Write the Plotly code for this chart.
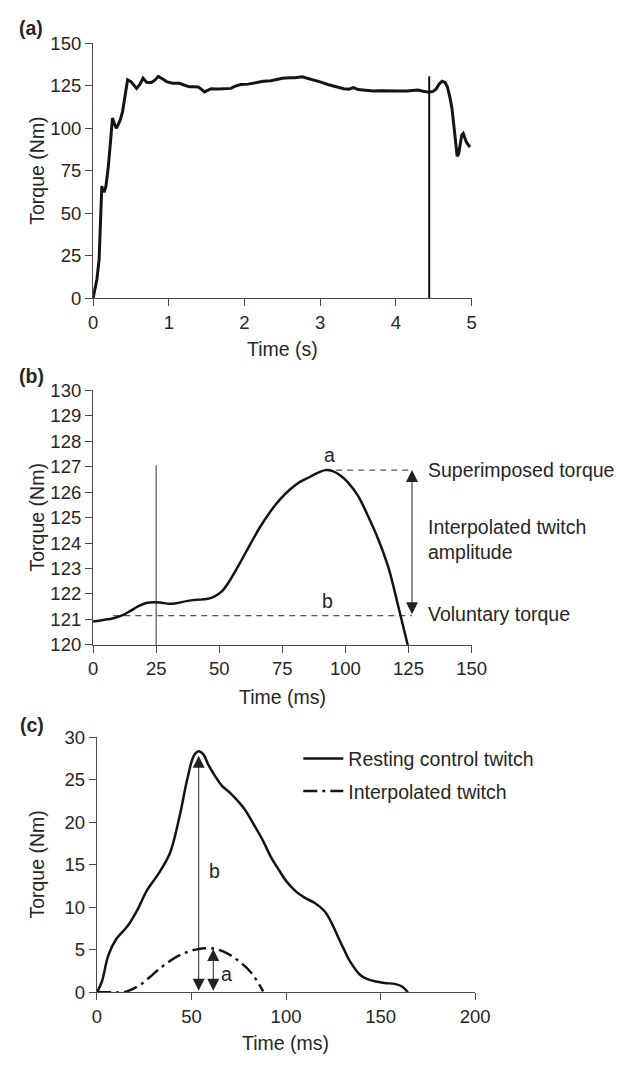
import plotly.graph_objects as go

W, H = 625, 1067
FONT = "Liberation Sans, Arial, Helvetica, sans-serif"
TXT = "#262626"
AX = "#4a4a4a"

# ---------------- data ----------------
# (a) maximal voluntary contraction
a_time = [0, 0.03, 0.05, 0.08, 0.1, 0.115, 0.13, 0.15, 0.17, 0.2, 0.23, 0.256, 0.28, 0.307, 0.33,
          0.36, 0.39, 0.42, 0.456, 0.5, 0.54, 0.575, 0.62, 0.66, 0.71, 0.77, 0.82, 0.86, 0.92, 0.97,
          1.05, 1.14, 1.2, 1.27, 1.33, 1.39, 1.43, 1.47, 1.52, 1.56, 1.65, 1.75, 1.82, 1.88, 1.95,
          2.05, 2.15, 2.25, 2.35, 2.5, 2.6, 2.67, 2.76, 2.85, 2.93, 3.02, 3.1, 3.2, 3.31, 3.38,
          3.44, 3.5, 3.61, 3.7, 3.8, 3.95, 4.05, 4.15, 4.22, 4.29, 4.36, 4.44, 4.49, 4.53, 4.57,
          4.61, 4.65, 4.68, 4.71, 4.74, 4.76, 4.78, 4.8, 4.81, 4.83, 4.85, 4.87, 4.89, 4.91, 4.93,
          4.96, 4.98]
a_torque = [0, 6, 11, 23, 48, 66, 63, 63, 66, 77, 92, 106, 103, 100, 102,
            105, 110, 118, 128.5, 127.5, 125, 123.5, 126, 129.5, 127, 127, 128.5, 130.5, 129, 127.5,
            126.5, 126.5, 125.5, 124.4, 124.5, 124.3, 123, 121.4, 122.5, 123.3, 123.2, 123.3, 123.5, 124.8, 125.8,
            126, 126.8, 127.7, 128, 129.4, 129.8, 129.8, 130.3, 129.3, 128.3, 127, 125.8, 124.5, 123.3, 123,
            124, 122.8, 122.3, 122, 122.1, 121.8, 122, 121.9, 122.3, 122.5, 121.8, 121.3, 121.7, 123, 126,
            127.7, 127, 124.5, 119, 112, 104, 95, 86, 83.5, 85, 90, 96, 97, 94, 92,
            90, 89]
a_stim_time = 4.44
a_stim_top = 130.6

# (b) superimposed twitch
b_time = [0, 4, 8, 12, 15, 18, 21, 24, 27, 30, 33, 37, 41, 45, 48, 51, 54, 58, 62, 66, 70, 74,
          78, 82, 86, 89, 92, 95, 98, 101, 105, 109, 113, 117, 121, 124.7]
b_torque = [120.92, 120.98, 121.05, 121.18, 121.35, 121.52, 121.65, 121.68, 121.66, 121.62, 121.64,
            121.72, 121.77, 121.8, 121.9, 122.1, 122.5, 123.18, 123.9, 124.6, 125.2, 125.7,
            126.1, 126.4, 126.6, 126.75, 126.86, 126.82, 126.65, 126.38, 125.85, 125.05, 124.15,
            123.05, 121.5, 120.0]
b_stim_time = 25
b_stim_top = 127.05
b_superimposed = 126.86
b_voluntary = 121.15
b_peak_time = 92
b_line_start = 8
b_arrow_time = 126.4

# (c) resting vs interpolated twitch
c_time = [0, 2.6, 6, 10.2, 16.2, 21.4, 26.5, 32.4, 38.4, 43.5, 47.8, 51.2, 53.8, 56.3, 59, 62.3,
          66, 70.8, 77.7, 83, 87.9, 92, 96.4, 100, 105, 110, 115.2, 120.4, 124, 127.2, 130.5, 134,
          139.2, 143, 147.7, 152, 157.9, 161.3, 164.4]
c_resting = [0, 1.27, 4.34, 6.26, 7.8, 9.7, 12.0, 13.9, 16.25, 20.5, 25.1, 27.8, 28.35, 27.97, 26.7,
             25.47, 24.3, 23.36, 21.63, 19.7, 17.78, 15.9, 14.32, 13.1, 11.9, 11.1, 10.49, 9.53, 8.2,
             6.65, 5.1, 3.57, 2.04, 1.55, 1.27, 1.1, 0.96, 0.69, 0]
i_time = [0, 8, 14, 18, 23, 28, 33.3, 38, 43.5, 48.5, 53.8, 57, 60.6, 65, 70.8, 76, 81.1, 84.5, 87.9]
i_interp = [0, 0, 0, 0.3, 0.89, 1.8, 2.8, 3.6, 4.34, 4.8, 5.1, 5.18, 5.18, 4.95, 4.34, 3.5, 2.42, 1.4, 0.1]
c_arrow_b_time, c_arrow_b_top = 53.8, 27.8
c_arrow_a_time, c_arrow_a_top = 61.5, 5.1

# ---------------- layout helpers ----------------
def px_x(p):
    return p / W

def px_y(p):
    return 1 - p / H

fig = go.Figure()

# panel a
fig.add_trace(go.Scatter(x=a_time, y=a_torque, mode="lines", line=dict(color="#141414", width=3),
                         xaxis="x", yaxis="y", showlegend=False))
fig.add_trace(go.Scatter(x=[a_stim_time, a_stim_time], y=[0, a_stim_top], mode="lines",
                         line=dict(color="#141414", width=2), xaxis="x", yaxis="y", showlegend=False))

# panel b
fig.add_trace(go.Scatter(x=[b_line_start, b_arrow_time], y=[b_voluntary, b_voluntary], mode="lines",
                         line=dict(color="#555555", width=1.2, dash="6px,5px"), xaxis="x2", yaxis="y2",
                         showlegend=False))
fig.add_trace(go.Scatter(x=[b_peak_time, b_arrow_time], y=[b_superimposed, b_superimposed], mode="lines",
                         line=dict(color="#555555", width=1.2, dash="6px,5px"), xaxis="x2", yaxis="y2",
                         showlegend=False))
fig.add_trace(go.Scatter(x=[b_stim_time, b_stim_time], y=[120, b_stim_top], mode="lines",
                         line=dict(color="#333333", width=1), xaxis="x2", yaxis="y2", showlegend=False))
fig.add_trace(go.Scatter(x=b_time, y=b_torque, mode="lines", line=dict(color="#141414", width=2.5, shape="spline"),
                         xaxis="x2", yaxis="y2", showlegend=False))

# panel c
fig.add_trace(go.Scatter(x=c_time, y=c_resting, mode="lines", name="Resting control twitch",
                         line=dict(color="#141414", width=2.5, shape="spline"), xaxis="x3", yaxis="y3",
                         legendgroup="r"))
fig.add_trace(go.Scatter(x=i_time, y=i_interp, mode="lines", name="Interpolated twitch",
                         line=dict(color="#141414", width=2.5, shape="spline", dash="14px,5px,3px,5px"),
                         xaxis="x3", yaxis="y3", legendgroup="i"))

axis_common = dict(showline=True, linecolor=AX, linewidth=1.3, ticks="outside", ticklen=7,
                   tickwidth=1.3, tickcolor=AX, showgrid=False, zeroline=False,
                   tickfont=dict(family=FONT, size=18.5, color=TXT), fixedrange=True)

fig.update_layout(
    width=W, height=H, margin=dict(l=0, r=0, t=0, b=0),
    paper_bgcolor="white", plot_bgcolor="white",
    font=dict(family=FONT, size=18, color=TXT),
    xaxis=dict(domain=[px_x(91), px_x(482)], range=[0, 5], tickvals=[0, 1, 2, 3, 4, 5], anchor="y", **axis_common),
    yaxis=dict(domain=[px_y(293), px_y(33)], range=[0, 150], tickvals=[0, 25, 50, 75, 100, 125, 150], anchor="x", **axis_common),
    xaxis2=dict(domain=[px_x(91), px_x(482)], range=[0, 150], tickvals=[0, 25, 50, 75, 100, 125, 150], anchor="y2", **axis_common),
    yaxis2=dict(domain=[px_y(646.7), px_y(386.7)], range=[120, 130], tickvals=list(range(120, 131)), anchor="x2", **axis_common),
    xaxis3=dict(domain=[px_x(95), px_x(485.7)], range=[0, 200], tickvals=[0, 50, 100, 150, 200], anchor="y3", **axis_common),
    yaxis3=dict(domain=[px_y(1001), px_y(740.7)], range=[0, 30], tickvals=[0, 5, 10, 15, 20, 25, 30], anchor="x3", **axis_common),
    legend=dict(x=px_x(303), y=px_y(743), xanchor="left", yanchor="top", bgcolor="rgba(0,0,0,0)",
                font=dict(family=FONT, size=19.5, color=TXT), tracegroupgap=4, itemwidth=40),
)

ann = []
def text(x, y, s, size=19.5, bold=False, xanchor="center", angle=0):
    ann.append(dict(x=px_x(x), y=px_y(y), xref="paper", yref="paper", text=("<b>%s</b>" % s) if bold else s,
                    showarrow=False, xanchor=xanchor, yanchor="middle", textangle=angle, align="left",
                    font=dict(family=FONT, size=size, color=TXT)))

# panel labels
text(12, 17, "(a)", bold=True, xanchor="left")
text(12, 372, "(b)", bold=True, xanchor="left")
text(13, 728, "(c)", bold=True, xanchor="left")
# axis titles
for yc in [163, 516.7, 870.8]:
    text(33, yc, "Torque (Nm)", angle=-90)
text(286.5, 345, "Time (s)")
text(286.5, 700, "Time (ms)")
text(290, 1053, "Time (ms)")
# panel b text
text(435, 468, "Superimposed torque", xanchor="left")
text(435, 539, "Interpolated twitch<br>amplitude", xanchor="left")
text(435, 615, "Voluntary torque", xanchor="left")

fig.update_layout(annotations=ann)

# data-anchored labels and arrows
fig.add_annotation(x=93.6, y=127.45, xref="x2", yref="y2", text="a", showarrow=False,
                   font=dict(family=FONT, size=19.5, color=TXT))
fig.add_annotation(x=92.8, y=121.73, xref="x2", yref="y2", text="b", showarrow=False,
                   font=dict(family=FONT, size=19.5, color=TXT))
fig.add_annotation(x=b_arrow_time, y=b_superimposed, ax=b_arrow_time, ay=b_voluntary,
                   xref="x2", yref="y2", axref="x2", ayref="y2", text="", showarrow=True,
                   arrowhead=2, startarrowhead=2, arrowside="end+start", arrowsize=2.4,
                   startarrowsize=2.4, arrowwidth=1, arrowcolor="#222222")
fig.add_annotation(x=c_arrow_b_time, y=c_arrow_b_top, ax=c_arrow_b_time, ay=0,
                   xref="x3", yref="y3", axref="x3", ayref="y3", text="", showarrow=True,
                   arrowhead=2, startarrowhead=2, arrowside="end+start", arrowsize=2.4,
                   startarrowsize=2.4, arrowwidth=1, arrowcolor="#222222")
fig.add_annotation(x=c_arrow_a_time, y=c_arrow_a_top, ax=c_arrow_a_time, ay=0,
                   xref="x3", yref="y3", axref="x3", ayref="y3", text="", showarrow=True,
                   arrowhead=2, startarrowhead=2, arrowside="end+start", arrowsize=2.4,
                   startarrowsize=2.4, arrowwidth=1, arrowcolor="#222222")
fig.add_annotation(x=62, y=14.3, xref="x3", yref="y3", text="b", showarrow=False,
                   font=dict(family=FONT, size=19.5, color=TXT))
fig.add_annotation(x=68.3, y=2.2, xref="x3", yref="y3", text="a", showarrow=False,
                   font=dict(family=FONT, size=19.5, color=TXT))

fig.write_html("out.html")
